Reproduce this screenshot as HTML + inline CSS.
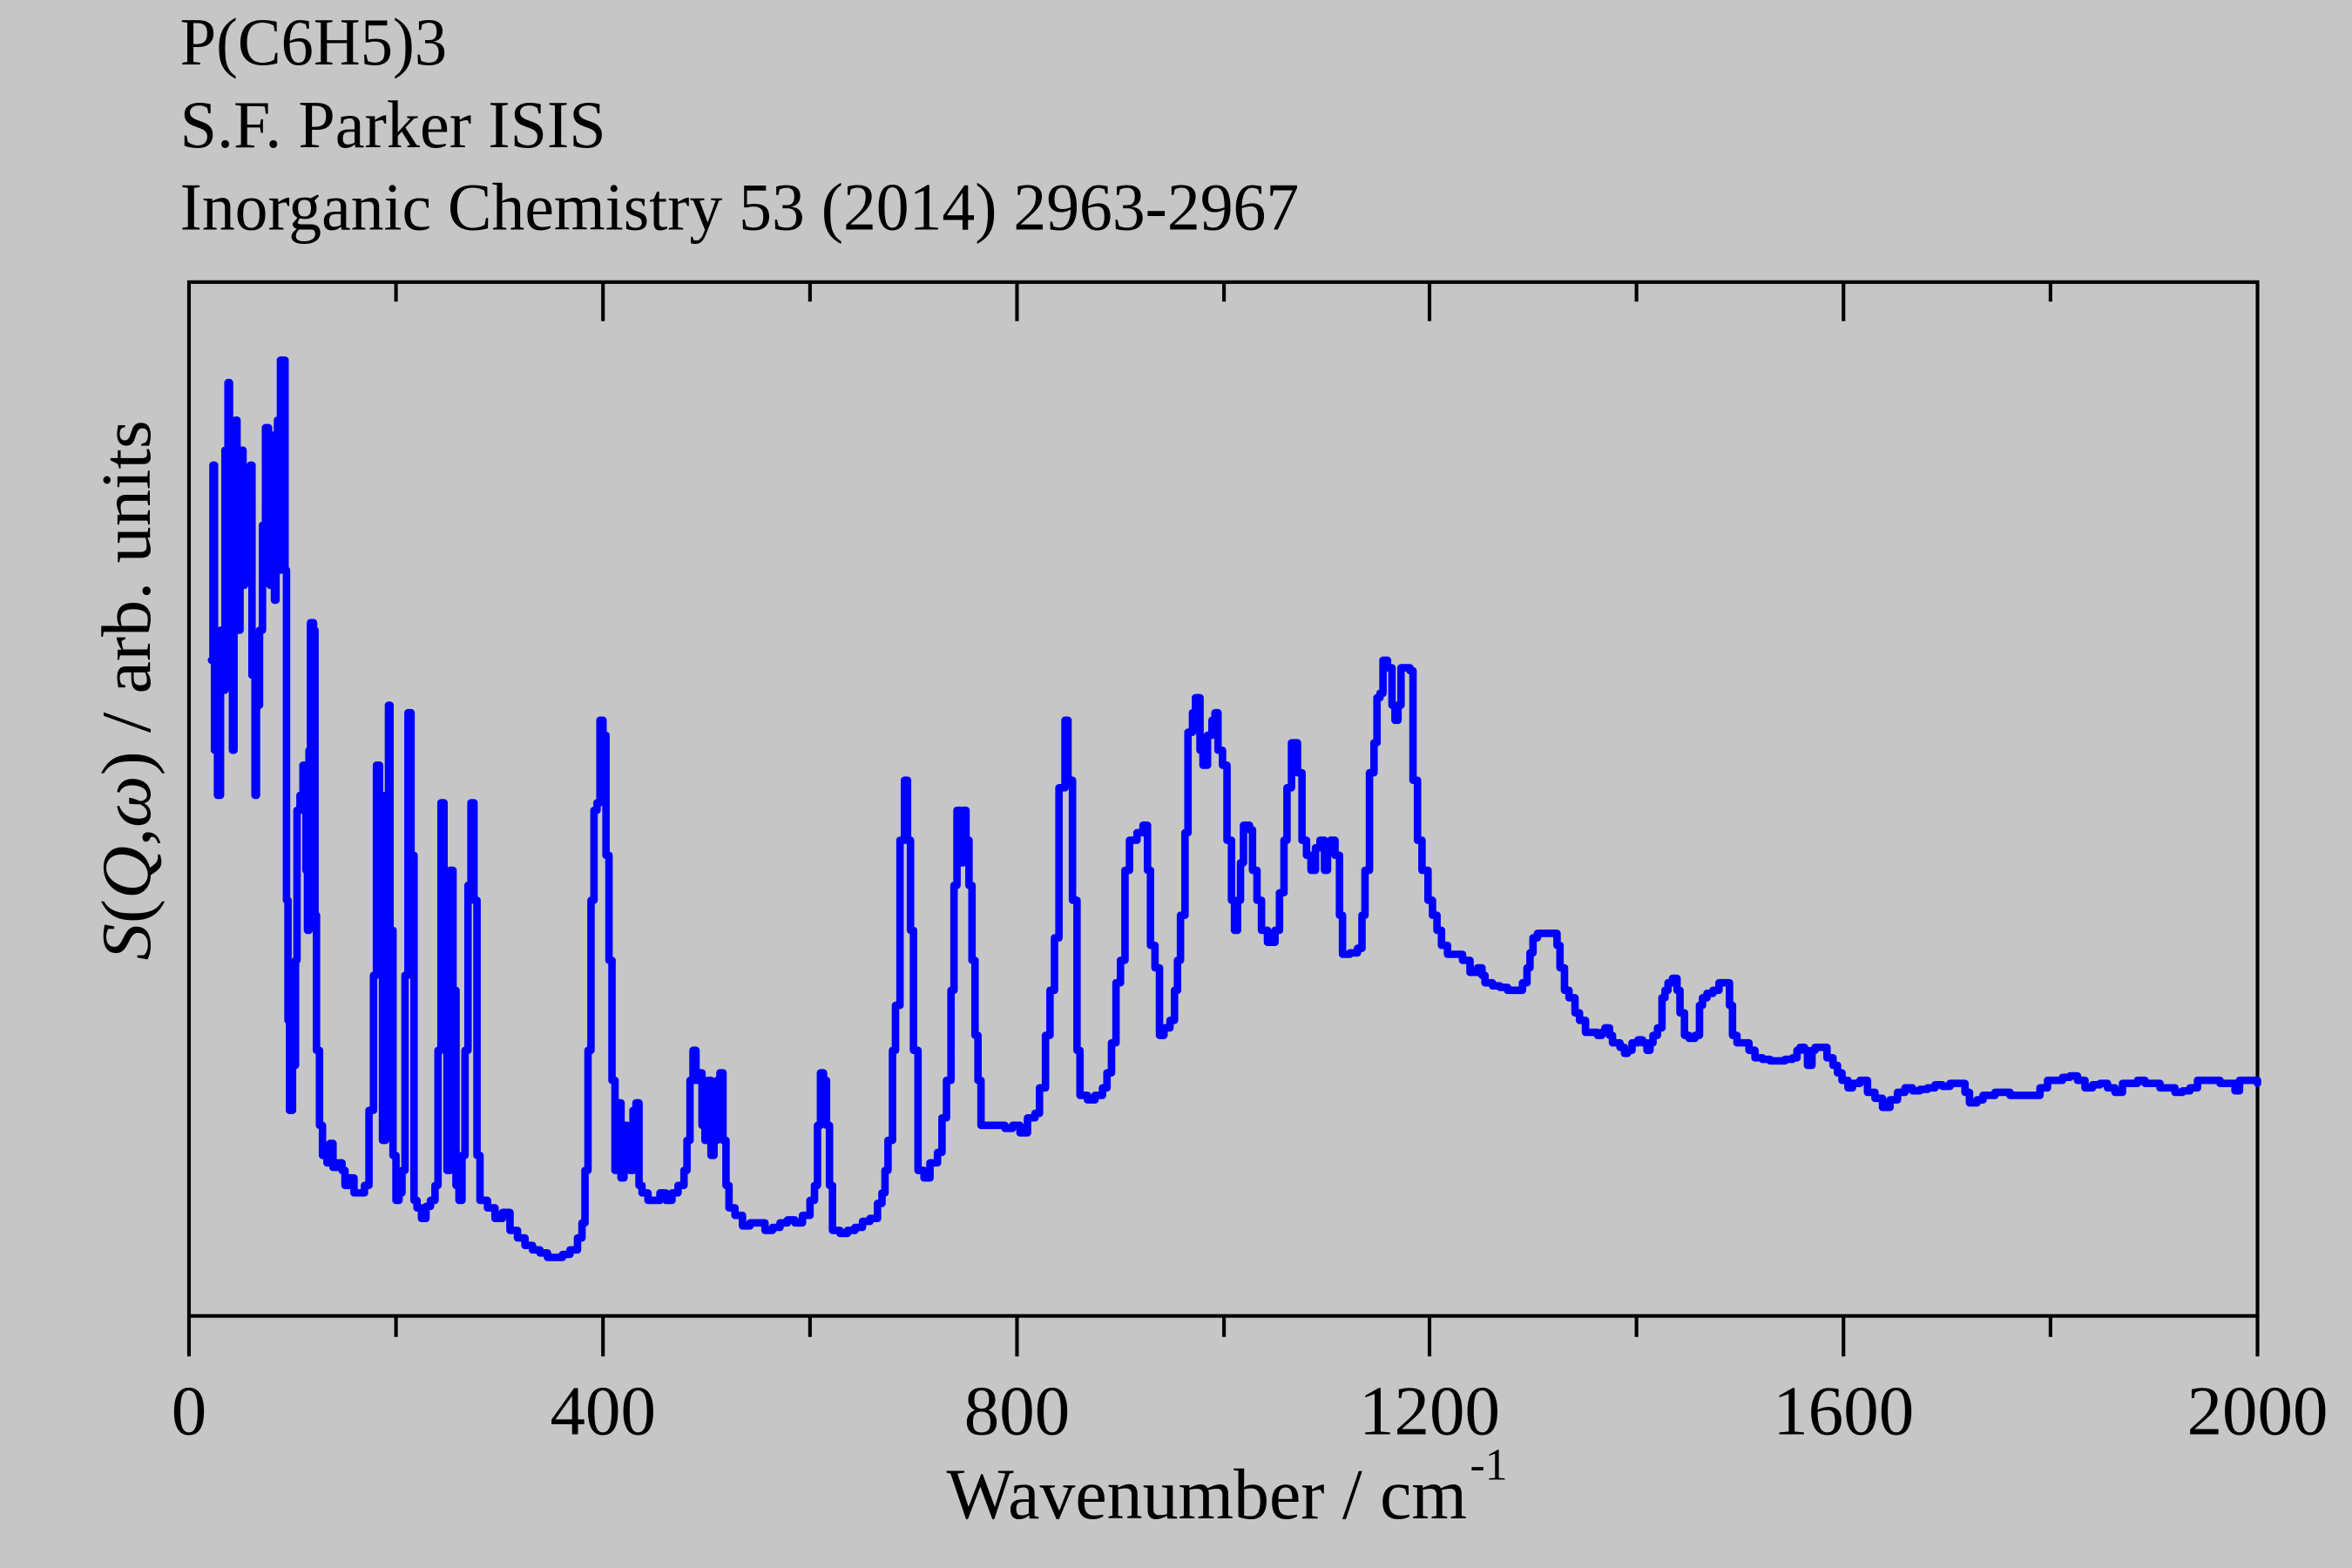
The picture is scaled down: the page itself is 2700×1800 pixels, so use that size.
<!DOCTYPE html>
<html><head><meta charset="utf-8"><style>html,body{margin:0;padding:0;background:#c6c6c6;}svg{display:block}</style></head>
<body>
<svg width="2700" height="1800" viewBox="0 0 1568 1045" preserveAspectRatio="none" xmlns="http://www.w3.org/2000/svg" font-family="'Liberation Serif', serif">
<rect x="0" y="0" width="1568" height="1045" fill="#c6c6c6"/>
<g font-size="45" fill="#000">
<text x="120" y="43" textLength="178" lengthAdjust="spacingAndGlyphs">P(C6H5)3</text>
<text x="120" y="98" textLength="284" lengthAdjust="spacingAndGlyphs">S.F. Parker ISIS</text>
<text x="120" y="153" textLength="746" lengthAdjust="spacingAndGlyphs">Inorganic Chemistry 53 (2014) 2963-2967</text>
</g>
<g stroke="#000" stroke-width="2.4" fill="none">
<rect x="126" y="188" width="1379" height="689"/>
<path d="M126 877V904M402 877V904M678 877V904M953 877V904M1229 877V904M1505 877V904M264 877V891M540 877V891M816 877V891M1091 877V891M1367 877V891"/>
<path d="M402 188V214M678 188V214M953 188V214M1229 188V214M264 188V201M540 188V201M816 188V201M1091 188V201M1367 188V201"/>
</g>
<g font-size="47" fill="#000" text-anchor="middle">
<text x="126" y="956">0</text>
<text x="402" y="956">400</text>
<text x="678" y="956">800</text>
<text x="953" y="956">1200</text>
<text x="1229" y="956">1600</text>
<text x="1505" y="956">2000</text>
</g>
<text x="631" y="1012" font-size="48" textLength="347" lengthAdjust="spacingAndGlyphs">Wavenumber / cm</text>
<text x="980" y="986" font-size="30">-1</text>
<text transform="translate(100,460) rotate(-90)" font-size="47" text-anchor="middle" textLength="360" lengthAdjust="spacingAndGlyphs"><tspan font-style="italic">S</tspan>(<tspan font-style="italic">Q</tspan>,<tspan font-style="italic">ω</tspan>) / arb. units</text>
<path id="spec" fill="none" stroke="#0000ff" stroke-width="5" stroke-linejoin="round" stroke-linecap="round" d=""/>
</svg>
<script>
var pts="141,440 142,310 143,500 145,530 147,420 149,460 150,300 152,255 153,400 154,330 155,500 156,285 157,280 158,340 159,420 160,300 162,390 163,380 165,340 167,310 168,450 170,530 171,470 173,420 175,350 177,285 179,290 180,390 181,290 183,400 184,330 185,280 186,380 187,240 189,240 190,380 191,600 192,680 193,740 195,710 197,640 198,540 200,530 202,510 204,580 205,620 206,500 207,415 209,420 210,610 211,700 213,750 215,770 218,775 220,762 222,778 225,775 228,780 230,790 233,785 236,795 240,795 243,790 246,740 249,650 251,510 253,620 255,760 257,530 259,470 260,620 262,770 264,800 266,795 268,780 270,650 272,475 274,570 276,800 278,805 281,812 284,804 287,800 290,790 292,700 294,535 296,600 298,780 300,580 302,700 303,660 304,790 306,800 308,770 310,700 312,590 314,535 316,600 318,770 320,800 325,805 330,812 335,808 340,820 345,825 350,830 355,833 360,835 365,838 370,838 375,836 380,833 385,825 388,815 390,780 392,700 394,600 396,540 398,535 400,480 402,490 404,570 406,640 408,720 410,780 412,735 414,785 416,750 418,770 420,780 422,740 424,735 426,790 428,795 432,800 436,800 440,795 444,800 448,795 452,790 456,780 458,760 460,720 462,700 464,720 466,715 468,750 470,760 472,720 474,770 476,760 478,720 480,715 482,760 484,790 486,805 490,810 495,817 500,815 505,815 510,820 515,818 520,815 525,813 530,815 535,810 540,800 543,790 545,750 547,715 549,720 551,750 553,790 555,820 560,822 565,820 570,818 575,814 580,812 585,802 588,795 590,780 592,760 595,700 597,670 600,560 603,520 605,560 607,620 609,700 612,780 616,785 620,775 625,768 628,745 631,720 634,660 636,590 638,540 640,575 642,540 644,560 646,590 648,640 650,690 652,720 654,750 660,750 665,750 670,752 675,750 680,755 685,745 690,742 693,725 697,690 700,660 703,625 706,525 710,480 712,520 715,600 718,700 720,730 725,733 730,730 735,725 738,715 741,695 744,655 747,640 750,580 753,560 758,555 762,550 765,580 767,630 770,645 773,690 776,685 780,680 783,660 785,640 787,610 790,555 792,488 795,475 797,465 800,500 802,510 805,490 808,480 810,475 812,500 815,510 818,560 821,600 823,620 825,600 827,575 829,550 833,553 835,580 838,600 841,620 845,628 850,620 853,595 856,560 858,525 861,495 865,515 868,560 871,570 874,580 877,565 880,560 883,580 885,565 887,560 890,570 893,610 895,636 900,635 905,632 908,610 910,580 913,515 916,495 918,465 920,462 922,440 925,445 928,470 930,480 932,470 934,445 940,447 942,520 945,560 948,580 952,600 955,610 958,620 961,630 965,636 970,636 975,640 980,648 985,645 988,650 990,655 995,657 1000,658 1005,660 1010,660 1015,655 1018,645 1020,635 1022,625 1025,622 1030,622 1035,622 1038,630 1040,645 1043,660 1046,665 1050,675 1053,680 1057,688 1060,688 1065,690 1068,688 1070,685 1073,690 1075,695 1080,698 1083,702 1085,700 1088,695 1092,693 1095,695 1098,700 1100,695 1102,690 1105,685 1108,665 1110,660 1112,655 1115,652 1118,660 1120,675 1123,690 1126,692 1130,690 1133,670 1135,665 1138,662 1142,660 1146,655 1150,655 1153,670 1155,690 1158,695 1163,695 1166,700 1170,705 1175,706 1180,707 1185,707 1190,706 1195,705 1198,700 1200,698 1203,700 1205,710 1208,700 1210,698 1215,698 1218,705 1222,710 1225,715 1228,720 1232,725 1235,722 1240,720 1245,728 1250,732 1255,738 1260,733 1265,728 1270,725 1275,727 1280,726 1285,725 1290,723 1295,724 1300,722 1305,722 1310,728 1313,735 1318,733 1322,730 1330,728 1340,730 1350,730 1360,725 1365,720 1375,718 1380,717 1385,720 1390,725 1395,723 1400,722 1405,725 1410,728 1415,722 1420,722 1425,720 1430,722 1440,725 1450,728 1455,727 1460,725 1465,720 1475,720 1480,722 1485,722 1490,727 1493,720 1500,720 1505,722".split(" ").map(function(s){return s.split(",").map(Number);});
var d="M"+pts[0][0]+" "+pts[0][1];
for(var i=1;i<pts.length;i++){d+="H"+pts[i][0]+"V"+pts[i][1];}
document.getElementById("spec").setAttribute("d",d);
</script>
</body></html>
